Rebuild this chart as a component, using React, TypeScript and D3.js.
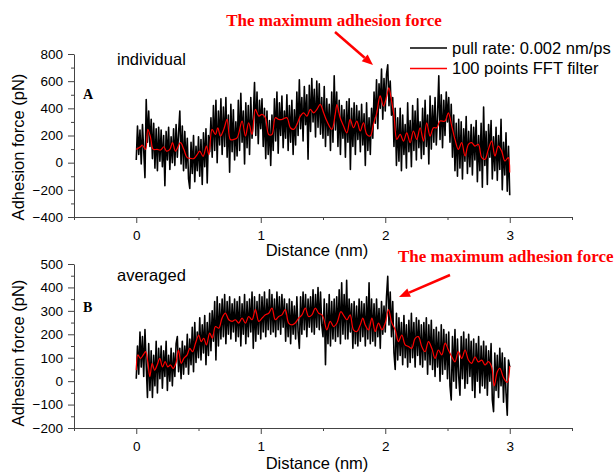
import React, { useEffect, useRef } from 'react';
import * as d3 from 'd3';

// raw force trace, one value per 0.01 nm from 0 to 3 nm (pN)
const rawA = [
  20, 270, 60, 240, -10, 280, 90, -110, 465, 150,
  380, 120, 320, 30, 290, -40, 250, -60, 260, 10,
  240, -30, 200, -170, 230, 20, 260, -50, 190, 0,
  250, -20, 280, 40, 220, 380, -10, 270, -60, 230,
  -40, 180, -120, -190, 150, -80, 200, -140, 120, -60,
  190, -100, 170, -160, 220, -30, 250, -150, 200, 80,
  330, 40, 420, 90, 460, 0, 380, 130, 470, 60,
  410, 120, 480, 40, 350, -70, 430, 80, 390, 20,
  300, 50, 460, 90, 510, 150, 380, -10, 440, 110,
  420, 60, 480, 180, 330, 590, 200, 520, 140, 460,
  250, 470, 120, 400, 30, 380, 60, 310, -20, 350,
  90, 470, 160, 520, 70, 440, 200, 490, 110, 380,
  180, 500, 90, 420, 150, 460, 60, 390, 130, 520,
  200, 610, 250, 480, 160, 560, 280, 500, 25, 570,
  230, 620, 300, 540, 190, 600, 260, 580, 210, 480,
  180, 560, 120, 470, 200, 430, 90, 520, 150, 640,
  240, 520, 120, 460, 60, 420, 180, 390, 40, 450,
  150, 470, -50, 400, 120, 440, 60, 420, 170, 380,
  80, 430, 130, 360, -20, 440, 90, 330, 60, 400,
  180, 520, 290, 610, 250, 580, 400, 690, 320, 620,
  380, 650, 720, 420, 600, 350, 480, 120, 400, -20,
  330, 10, 400, -60, 350, 60, 280, -40, 440, 80,
  310, -30, 420, 90, 380, 20, 470, 110, 300, 30,
  400, 60, 460, 120, 350, -10, 490, 100, 420, 150,
  480, 130, 350, 640, 170, 500, 110, 460, 200, 520,
  300, 480, 150, 430, 40, 350, -60, 290, -100, 320,
  -40, 300, -120, 250, 10, 340, -80, 230, -30, 280,
  -90, 260, 20, 310, -140, 200, -60, 290, -180, 410,
  -20, 230, -160, 280, 40, 310, -120, 190, -60, 260,
  -130, 200, -50, 320, -200, 150, -90, 220, -210, 120,
  -240,
];

// FFT filtered trace [distance nm, force pN]
const filterA = [
  [0, 98], [0.034, 117], [0.048, 130], [0.075, 98], [0.093, 245], [0.115, 185],
  [0.136, 98], [0.168, 98], [0.195, 93], [0.222, 117], [0.243, 85], [0.27, 98],
  [0.291, 147], [0.315, 85], [0.355, 147], [0.382, 98], [0.409, 37], [0.435, 32],
  [0.462, 30], [0.489, 59], [0.51, 85], [0.537, 47], [0.564, 122], [0.583, 59],
  [0.609, 245], [0.636, 208], [0.655, 257], [0.676, 196], [0.703, 245], [0.73, 318],
  [0.756, 171], [0.783, 171], [0.81, 183], [0.85, 306], [0.877, 196], [0.903, 294],
  [0.93, 208], [0.957, 392], [0.984, 343], [1.01, 355], [1.037, 331], [1.064, 208],
  [1.09, 208], [1.117, 331], [1.144, 318], [1.17, 318], [1.21, 331], [1.238, 257],
  [1.264, 245], [1.291, 282], [1.318, 343], [1.344, 367], [1.371, 343], [1.398, 392],
  [1.425, 367], [1.451, 392], [1.478, 429], [1.505, 367], [1.531, 306], [1.571, 245],
  [1.598, 355], [1.612, 428], [1.638, 331], [1.665, 270], [1.692, 220], [1.718, 318],
  [1.745, 257], [1.772, 306], [1.799, 233], [1.825, 294], [1.852, 208], [1.879, 196],
  [1.905, 282], [1.932, 367], [1.959, 491], [1.986, 416], [2.012, 491], [2.029, 551],
  [2.053, 440], [2.071, 343], [2.093, 171], [2.12, 208], [2.146, 159], [2.173, 220],
  [2.2, 147], [2.226, 233], [2.253, 171], [2.28, 257], [2.307, 159], [2.333, 294],
  [2.36, 196], [2.387, 257], [2.414, 257], [2.44, 306], [2.48, 306], [2.507, 367],
  [2.534, 270], [2.56, 171], [2.587, 98], [2.614, 147], [2.641, 49], [2.668, 135],
  [2.694, 147], [2.721, 122], [2.748, 135], [2.775, 37], [2.801, 25], [2.828, 98],
  [2.855, 159], [2.881, 49], [2.908, 122], [2.935, 85], [2.961, 12], [2.988, 37],
  [3, -73],
];

const rawB = [
  10, 150, 30, 210, 60, 190, 20, 220, 70, -70,
  160, -40, 130, -70, 110, -20, 170, -50, 140, 10,
  150, -30, 130, 20, 170, -40, 110, 0, 140, -20,
  120, 20, 160, 190, 40, 140, 10, 170, 30, 150,
  60, 200, 30, 180, 70, 230, 40, 250, 80, 210,
  100, 270, 90, 240, 120, 280, 70, 250, 110, 290,
  130, 300, 170, 340, 90, 360, 150, 330, 180, 350,
  190, 370, 160, 340, 200, 360, 180, 330, 210, 350,
  170, 340, 190, 360, 150, 330, 200, 370, 160, 340,
  190, 350, 210, 380, 140, 360, 170, 340, 200, 370,
  180, 360, 210, 380, 190, 350, 220, 390, 200, 370,
  210, 350, 190, 380, 220, 360, 200, 370, 230, 350,
  170, 330, 190, 350, 160, 340, 200, 320, 180, 360,
  210, 140, 360, 200, 380, 220, 370, 190, 350, 230,
  360, 210, 390, 200, 370, 230, 400, 220, 380, 240,
  190, 350, 70, 330, 160, 370, 150, 340, 180, 350,
  170, 360, 190, 390, 160, 420, 200, 370, 180, 430,
  180, 350, 210, 330, 140, 340, 160, 320, 150, 350,
  170, 340, 190, 330, 150, 360, 180, 420, 160, 350,
  170, 330, 150, 350, 190, 310, 140, 340, 200, 320,
  210, 360, 447, 240, 380, 190, 340, 120, 50, 290,
  90, 270, 110, 250, 70, 280, 100, 240, 60, 260,
  80, 290, 100, 250, 60, 270, 110, 260, 70, 240,
  60, 250, 90, 270, 30, 240, 70, 260, 50, 220,
  20, 230, 60, 210, 0, 240, 30, 220, 50, 200,
  10, 210, -20, -80, 190, 0, 220, -30, 180, 20,
  -60, 190, 10, 210, -30, 180, -10, 200, 20, 170,
  -40, 180, -70, 160, 0, 190, -50, 150, -20, 170,
  -30, 150, -60, 130, 0, 160, -80, -130, 120, -40,
  110, -70, 140, -20, 120, -90, 100, -50, -145, 90,
  60,
];

const filterB = [
  [0, 47], [0.013, 112], [0.034, 97], [0.056, 112], [0.075, 126], [0.093, 82],
  [0.109, 19], [0.128, 76], [0.147, 47], [0.168, 69], [0.189, 97], [0.211, 61],
  [0.232, 83], [0.254, 61], [0.275, 69], [0.296, 54], [0.318, 76], [0.339, 133],
  [0.361, 76], [0.382, 97], [0.409, 112], [0.43, 140], [0.452, 126], [0.476, 162],
  [0.502, 197], [0.521, 169], [0.542, 183], [0.564, 155], [0.59, 205], [0.612, 183],
  [0.636, 233], [0.663, 226], [0.689, 269], [0.716, 290], [0.743, 262], [0.77, 255],
  [0.796, 262], [0.823, 248], [0.85, 269], [0.877, 248], [0.903, 276], [0.93, 262],
  [0.957, 305], [0.984, 255], [1.01, 269], [1.037, 283], [1.064, 290], [1.09, 312],
  [1.117, 262], [1.144, 276], [1.17, 283], [1.197, 305], [1.224, 248], [1.251, 240],
  [1.277, 248], [1.304, 269], [1.331, 283], [1.358, 312], [1.384, 276], [1.411, 283],
  [1.438, 312], [1.465, 290], [1.491, 283], [1.505, 269], [1.531, 219], [1.558, 255],
  [1.585, 233], [1.612, 248], [1.644, 297], [1.671, 276], [1.692, 262], [1.718, 283],
  [1.745, 219], [1.772, 212], [1.799, 240], [1.82, 269], [1.839, 240], [1.866, 219],
  [1.893, 269], [1.919, 212], [1.946, 248], [1.973, 219], [2, 248], [2.026, 305],
  [2.053, 248], [2.08, 219], [2.106, 169], [2.133, 197], [2.16, 155], [2.186, 148],
  [2.213, 140], [2.24, 183], [2.266, 190], [2.293, 148], [2.32, 126], [2.347, 169],
  [2.374, 140], [2.4, 97], [2.427, 133], [2.454, 112], [2.481, 162], [2.507, 133],
  [2.534, 104], [2.56, 82], [2.587, 126], [2.614, 97], [2.641, 133], [2.668, 90],
  [2.694, 76], [2.721, 104], [2.748, 82], [2.775, 90], [2.801, 69], [2.828, 83],
  [2.855, 60], [2.875, -20], [2.9, 40], [2.92, 55], [2.95, 15], [2.98, -5], [3, 65],
];

const STEP = 0.01;
const xTicks = [0, 1, 2, 3];
const xMinor = [-0.5, 0.5, 1.5, 2.5, 3.5];
const yTicksA = [-400, -200, 0, 200, 400, 600, 800];
const yMinorA = [-300, -100, 100, 300, 500, 700];
const yTicksB = [-200, -100, 0, 100, 200, 300, 400, 500];
const yMinorB = [-150, -50, 50, 150, 250, 350, 450];

const SANS = "Arial, 'Liberation Sans', sans-serif";
const SERIF = "'Times New Roman', 'Liberation Serif', serif";

const App = () => {
  const ref = useRef<SVGSVGElement>(null);

  useEffect(() => {
    const svg = d3.select(ref.current);
    svg.selectAll('*').remove();

    const x = d3.scaleLinear().domain([-0.5, 3.5]).range([74, 572]);

    const panel = (raw, filter, domain, range, major, minor, tag, note, labelY, xLabelY) => {
      const y = d3.scaleLinear().domain(domain).range(range);
      const g = svg.append('g');

      const styleAxis = (a) => {
        a.selectAll('path, line').attr('stroke', '#444');
        a.selectAll('text').attr('font-family', SANS).attr('font-size', 13.5).attr('fill', '#000');
      };

      g.append('g').attr('transform', `translate(0,${range[0]})`)
        .call(d3.axisBottom(x).tickValues(xMinor).tickSize(3).tickSizeOuter(0).tickFormat(() => ''))
        .call(a => a.select('.domain').remove())
        .call(styleAxis);
      g.append('g').attr('transform', `translate(0,${range[0]})`)
        .call(d3.axisBottom(x).tickValues(xTicks).tickSize(6).tickSizeOuter(0).tickPadding(7).tickFormat(d3.format('d')))
        .call(styleAxis);

      g.append('g').attr('transform', 'translate(74,0)')
        .call(d3.axisLeft(y).tickValues(minor).tickSize(3).tickSizeOuter(0).tickFormat(() => ''))
        .call(a => a.select('.domain').remove())
        .call(styleAxis);
      g.append('g').attr('transform', 'translate(74,0)')
        .call(d3.axisLeft(y).tickValues(major).tickSize(6).tickSizeOuter(0).tickPadding(5).tickFormat(d3.format('d')))
        .call(styleAxis);

      const rawLine = d3.line<number>().x((d, i) => x(i * STEP)).y(d => y(d));
      g.append('path').datum(raw)
        .attr('d', rawLine)
        .attr('fill', 'none')
        .attr('stroke', '#000')
        .attr('stroke-width', 1.6)
        .attr('stroke-linejoin', 'round');

      const smooth = d3.line<number[]>().x(d => x(d[0])).y(d => y(d[1])).curve(d3.curveCatmullRom);
      g.append('path').datum(filter)
        .attr('d', smooth)
        .attr('fill', 'none')
        .attr('stroke', '#ff0000')
        .attr('stroke-width', 1.2);

      g.append('text')
        .attr('transform', `translate(24,${labelY}) rotate(-90)`)
        .attr('text-anchor', 'middle')
        .attr('font-family', SANS).attr('font-size', 16.5)
        .text('Adhesion force (pN)');

      g.append('text')
        .attr('x', 317).attr('y', xLabelY)
        .attr('text-anchor', 'middle')
        .attr('font-family', SANS).attr('font-size', 16.5)
        .text('Distance (nm)');

      g.append('text')
        .attr('x', 83).attr('y', tag.y)
        .attr('font-family', SERIF).attr('font-weight', 'bold').attr('font-size', 14)
        .text(tag.text);

      g.append('text')
        .attr('x', 117).attr('y', note.y)
        .attr('font-family', SANS).attr('font-size', 16.5)
        .text(note.text);
    };

    panel(rawA, filterA, [-400, 800], [217, 54], yTicksA, yMinorA,
      { text: 'A', y: 99 }, { text: 'individual', y: 65 }, 147, 256);
    panel(rawB, filterB, [-200, 500], [428, 264], yTicksB, yMinorB,
      { text: 'B', y: 312 }, { text: 'averaged', y: 281 }, 353, 469);

    // legend
    const legend = [
      { label: 'pull rate: 0.002 nm/ps', color: '#000', y: 48 },
      { label: '100 points FFT filter', color: '#ff0000', y: 68.5 },
    ];
    legend.forEach(l => {
      svg.append('line')
        .attr('x1', 410).attr('x2', 447).attr('y1', l.y).attr('y2', l.y)
        .attr('stroke', l.color).attr('stroke-width', 1.5);
      svg.append('text')
        .attr('x', 452).attr('y', l.y + 5.5)
        .attr('font-family', SANS).attr('font-size', 16.5)
        .text(l.label);
    });

    // annotations
    const arrow = (x1, y1, x2, y2) => {
      const a = Math.atan2(y2 - y1, x2 - x1);
      const len = 11, half = 4.5;
      const bx = x2 - len * Math.cos(a), by = y2 - len * Math.sin(a);
      svg.append('line')
        .attr('x1', x1).attr('y1', y1).attr('x2', bx).attr('y2', by)
        .attr('stroke', '#ff0000').attr('stroke-width', 2.5);
      svg.append('path')
        .attr('d', `M${x2},${y2}L${bx - half * Math.sin(a)},${by + half * Math.cos(a)}L${bx + half * Math.sin(a)},${by - half * Math.cos(a)}Z`)
        .attr('fill', '#ff0000');
    };

    svg.append('text')
      .attr('x', 334).attr('y', 26)
      .attr('text-anchor', 'middle')
      .attr('font-family', SERIF).attr('font-weight', 'bold').attr('font-size', 17)
      .attr('fill', '#ff0000')
      .text('The maximum adhesion force');
    arrow(335, 32, 373, 65);

    svg.append('text')
      .attr('x', 398).attr('y', 262)
      .attr('font-family', SERIF).attr('font-weight', 'bold').attr('font-size', 17)
      .attr('fill', '#ff0000')
      .text('The maximum adhesion force');
    arrow(450, 275, 399, 297);
  }, []);

  return (
    <svg ref={ref} width={616} height={473}
      style={{ position: 'absolute', left: 0, top: 0, background: '#fff' }} />
  );
};

export default App;
